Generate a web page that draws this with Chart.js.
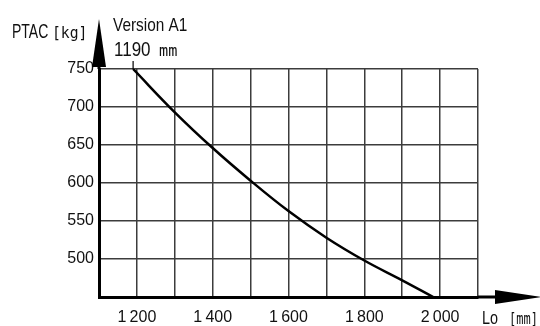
<!DOCTYPE html>
<html><head><meta charset="utf-8">
<script src="https://cdn.jsdelivr.net/npm/chart.js@4"></script>
<style>html,body{margin:0;padding:0;background:#fff}#wrap{width:540px;height:326px}</style>
</head><body><div id="wrap"><canvas id="c" width="540" height="326"></canvas></div>
<script>
const lengthsMm = [1190, 1300, 1400, 1500, 1600, 1700, 1800, 1900, 1982];
const ptacKg    = [750, 693, 646, 603, 563, 528, 498, 472, 450];
const xTickLabels = {1200:'1\u2009200',1400:'1\u2009400',1600:'1\u2009600',1800:'1\u2009800',2000:'2\u2009000'};
const yTickLabels = [500, 550, 600, 650, 700, 750];
const yTitle = 'PTAC', yUnit = '[kg]';
const xTitle = 'Lo', xUnit = '[mm]';
const noteTitle = 'Version A1', noteValue = '1190', noteUnit = 'mm';

const SANS = '"Liberation Sans", Arial, sans-serif';
const MONO = '"DejaVu Sans Mono", "Liberation Mono", monospace';

function condensed(ctx, text, x, y, font, sx) {
  ctx.save();
  ctx.font = font;
  ctx.translate(x, y);
  ctx.scale(sx, 1);
  ctx.fillText(text, 0, 0);
  ctx.restore();
}

const decor = {
  id: 'decor',
  afterDraw(chart) {
    const ctx = chart.ctx, a = chart.chartArea;
    const xs = chart.scales.x;
    ctx.save();
    ctx.fillStyle = '#000'; ctx.strokeStyle = '#000';
    ctx.lineWidth = 3;
    ctx.beginPath(); ctx.moveTo(a.left, a.top); ctx.lineTo(a.left, 40); ctx.stroke();
    ctx.beginPath(); ctx.moveTo(a.right, a.bottom); ctx.lineTo(500, a.bottom); ctx.stroke();
    ctx.beginPath(); ctx.moveTo(a.left, 19); ctx.lineTo(a.left - 7, 67); ctx.lineTo(a.left + 7, 67); ctx.closePath(); ctx.fill();
    ctx.beginPath(); ctx.moveTo(542, a.bottom); ctx.lineTo(495, a.bottom - 7); ctx.lineTo(495, a.bottom + 7); ctx.closePath(); ctx.fill();
    const px = xs.getPixelForValue(lengthsMm[0]);
    ctx.lineWidth = 1.2;
    ctx.beginPath(); ctx.moveTo(px, 61); ctx.lineTo(px, a.top); ctx.stroke();
    ctx.textBaseline = 'alphabetic'; ctx.textAlign = 'left';
    ctx.fillStyle = '#111';
    condensed(ctx, yTitle, 12, 38, '20px ' + SANS, 0.70);
    condensed(ctx, yUnit, 52, 38, '16px ' + MONO, 0.92);
    condensed(ctx, noteTitle, 113, 31, '19px ' + SANS, 0.81);
    condensed(ctx, noteValue, 114, 56, '20px ' + SANS, 0.85);
    condensed(ctx, noteUnit, 159, 56, '16px ' + MONO, 0.95);
    condensed(ctx, xTitle, 482, 324, '18px ' + SANS, 0.8);
    condensed(ctx, xUnit, 509, 324, '15px ' + MONO, 0.8);
    ctx.restore();
  }
};

new Chart(document.getElementById('c'), {
  type: 'scatter',
  data: { datasets: [{
    data: lengthsMm.map((x, i) => ({x, y: ptacKg[i]})),
    showLine: true, borderColor: '#000', borderWidth: 2.5,
    pointRadius: 0, tension: 0.4, fill: false
  }]},
  options: {
    responsive: false, animation: false,
    layout: { padding: { top: 69, right: 62, left: 0, bottom: 0 } },
    plugins: { legend: { display: false }, tooltip: { enabled: false } },
    scales: {
      x: {
        type: 'linear', min: 1100, max: 2100,
        afterFit(s) { s.height = 29; },
        ticks: { stepSize: 100, autoSkip: false, maxRotation: 0, padding: 11, color: '#111',
          font: { family: SANS, size: 16 },
          callback: v => xTickLabels[v] || '' },
        grid: { color: '#3c3c3c', lineWidth: 1.5, drawTicks: false },
        border: { color: '#000', width: 3 }
      },
      y: {
        min: 450, max: 750,
        afterFit(s) { s.width = 99; },
        ticks: { stepSize: 50, autoSkip: false, padding: 5, color: '#111',
          font: { family: SANS, size: 16 },
          callback: v => yTickLabels.includes(v) ? String(v) : '' },
        grid: { color: '#3c3c3c', lineWidth: 1.5, drawTicks: false },
        border: { color: '#000', width: 3 }
      }
    }
  },
  plugins: [decor]
});
</script></body></html>
